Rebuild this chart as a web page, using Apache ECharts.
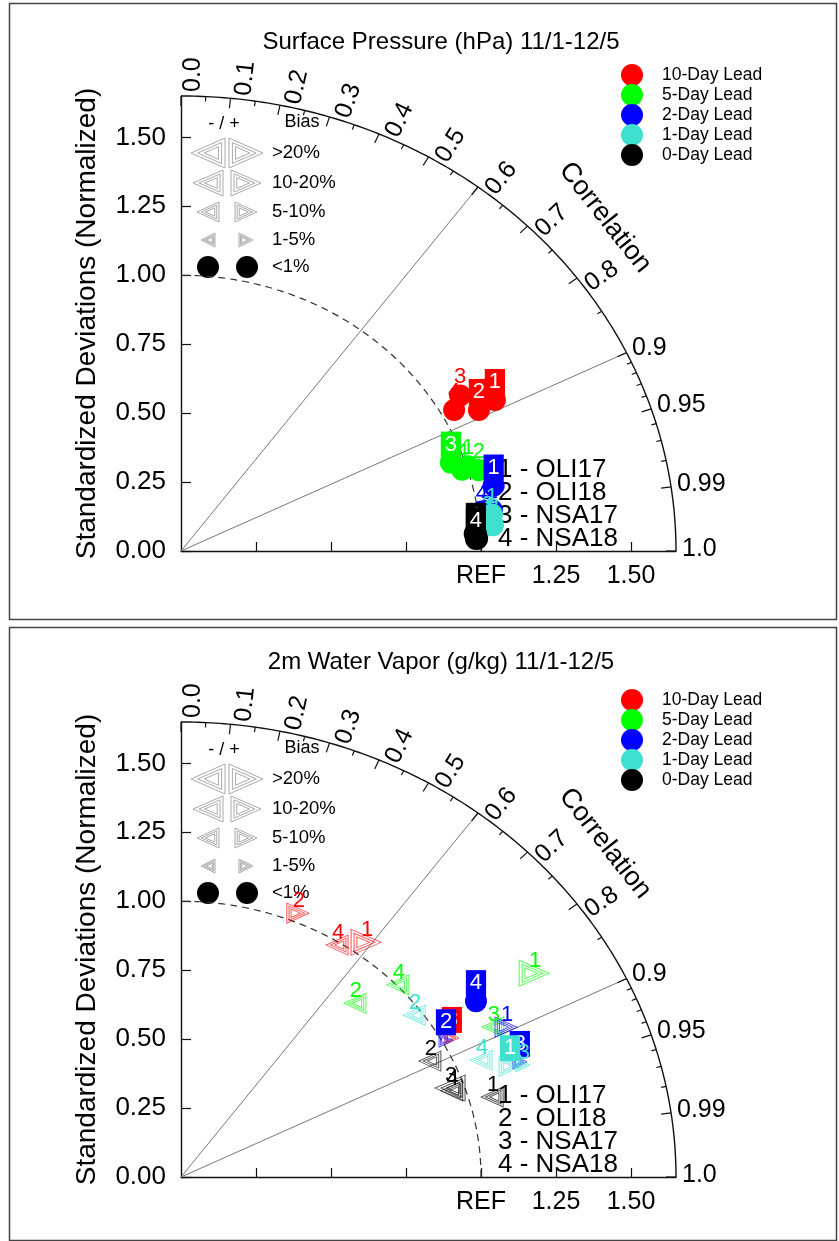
<!DOCTYPE html>
<html>
<head>
<meta charset="utf-8">
<script src="https://cdn.jsdelivr.net/npm/echarts@6/dist/echarts.min.js"></script>
<style>html,body{margin:0;padding:0;background:#fff}#main{width:839px;height:1241px}</style>
</head>
<body>
<div id="main"></div>
<script>
var FONT = '"Liberation Sans", Arial, Helvetica, sans-serif';

var leads = ['10-Day Lead', '5-Day Lead', '2-Day Lead', '1-Day Lead', '0-Day Lead'];
var leadColors = ['#ff0000', '#00ff00', '#0000ff', '#40e0d0', '#000000'];
var sites = ['OLI17', 'OLI18', 'NSA17', 'NSA18'];
var panelTitles = ['Surface Pressure (hPa) 11/1-12/5', '2m Water Vapor (g/kg) 11/1-12/5'];

// rows = leads (10,5,2,1,0 day), cols = sites (OLI17, OLI18, NSA17, NSA18)
var psStd = [
    [1.181, 1.117, 1.088, 1.044],
    [1.005, 1.035, 0.955, 0.982],
    [1.069, 1.047, 1.027, 1.013],
    [1.045, 1.044, 1.028, 1.021],
    [0.985, 0.988, 0.981, 0.984]
];
var psCor = [
    [0.886, 0.889, 0.855, 0.872],
    [0.952, 0.959, 0.942, 0.954],
    [0.975, 0.990, 0.990, 0.990],
    [0.992, 0.996, 0.995, 0.996],
    [0.998, 0.999, 0.998, 0.999]
];
// bias class: 0 <1%, 1 1-5%, 2 5-10%, 3 10-20%, 4 >20%; sign = sign of bias
var psBias = [
    [0, 0, 0, 0],
    [0, 0, 0, 0],
    [0, 0, 0, 0],
    [0, 0, 0, 0],
    [0, 0, 0, 0]
];
var wvStd = [
    [1.051, 1.033, 1.034, 0.989],
    [1.390, 0.856, 1.173, 1.004],
    [1.212, 1.013, 1.204, 1.172],
    [1.168, 0.974, 1.210, 1.086],
    [1.077, 0.930, 0.953, 0.955]
];
var wvCor = [
    [0.587, 0.377, 0.873, 0.526],
    [0.847, 0.677, 0.886, 0.720],
    [0.894, 0.872, 0.938, 0.839],
    [0.939, 0.798, 0.942, 0.921],
    [0.963, 0.892, 0.941, 0.945]
];
var wvBias = [
    [3, 2, 1, -2],
    [3, -2, -2, -2],
    [2, 1, 1, 0],
    [2, -2, 1, -2],
    [-2, -2, -3, -2]
];
// labels drawn white on a coloured box: [lead, site]
var psBoxed = [[0, 0], [0, 1], [1, 2], [2, 0], [4, 0], [4, 3]];
var wvBoxed = [[0, 2], [2, 1], [2, 2], [2, 3], [3, 0]];

var yTickValues = [0, 0.25, 0.5, 0.75, 1, 1.25, 1.5];
var xTickValues = [0.25, 0.5, 0.75, 1, 1.25, 1.5];
var xLabelValues = [1, 1.25, 1.5];
var xLabelTexts = ['REF', '1.25', '1.50'];
var corrLabelValues = [0, 0.1, 0.2, 0.3, 0.4, 0.5, 0.6, 0.7, 0.8, 0.9, 0.95, 0.99, 1];
var corrLabelTexts = ['0.0', '0.1', '0.2', '0.3', '0.4', '0.5', '0.6', '0.7', '0.8', '0.9', '0.95', '0.99', '1.0'];
var corrMinor = [0.05, 0.15, 0.25, 0.35, 0.45, 0.55, 0.65, 0.75, 0.85, 0.91, 0.92, 0.93, 0.94, 0.96, 0.97, 0.98];
var corrLines = [0.6, 0.9];
var refStd = 1;
var maxStd = 1.65;
var biasLabels = ['>20%', '10-20%', '5-10%', '1-5%', '<1%'];
var biasClasses = [4, 3, 2, 1, 0];

var triSize = {1: [14, 14], 2: [22, 20], 3: [30, 26], 4: [34, 30]};
var triScales = [1, 0.7, 0.42];
var PANEL_DY = 626;

function rgba(hex, a) {
    var n = parseInt(hex.slice(1), 16);
    return 'rgba(' + (n >> 16) + ',' + ((n >> 8) & 255) + ',' + (n & 255) + ',' + a + ')';
}

// nested triangle outline, dir 1 = points right (+bias), -1 = left
function triPath(dir) {
    var d = '';
    triScales.forEach(function (s) {
        var bx = 33.3 - 33.3 * s, ax = 33.3 + 66.7 * s;
        if (dir < 0) { bx = 100 - bx; ax = 100 - ax; }
        d += 'M' + bx + ',' + (50 - 50 * s) + 'L' + ax + ',50L' + bx + ',' + (50 + 50 * s) + 'Z';
    });
    return d;
}
function triPolys(cx, cy, w, h, dir, color) {
    var out = [];
    triScales.forEach(function (s) {
        var bx = -w / 3 * s, ax = w * 2 / 3 * s, gx = cx - w / 6;
        if (dir < 0) { bx = -bx; ax = -ax; gx = cx + w / 6; }
        out.push({
            type: 'polygon',
            shape: {points: [[gx + bx, cy - h / 2 * s], [gx + ax, cy], [gx + bx, cy + h / 2 * s]]},
            style: {fill: 'none', stroke: color, lineWidth: 1}
        });
    });
    return out;
}
function txt(x, y, text, size, align, vAlign, extra) {
    var el = {
        type: 'text', x: x, y: y,
        style: {
            text: text, font: size + 'px ' + FONT, fill: '#000', textFill: '#000',
            align: align, textAlign: align, verticalAlign: vAlign, textVerticalAlign: vAlign
        }
    };
    if (extra) for (var k in extra) el[k] = extra[k];
    return el;
}
function isBoxed(list, i, j) {
    for (var k = 0; k < list.length; k++) if (list[k][0] === i && list[k][1] === j) return true;
    return false;
}

// arcs, radial lines, correlation ticks and labels in data space
function frameSeries(p) {
    return {
        type: 'custom', xAxisIndex: p, yAxisIndex: p, z: 1, silent: true, clip: false,
        data: [[0, 0]],
        renderItem: function (params, api) {
            var o = api.coord([0, 0]);
            var kids = [];
            function pt(r, c) { return api.coord([r * c, r * Math.sqrt(Math.max(0, 1 - c * c))]); }
            function arc(r) {
                var pts = [];
                for (var a = 0; a <= 90.001; a += 0.5) {
                    var t = a * Math.PI / 180;
                    pts.push(api.coord([r * Math.cos(t), r * Math.sin(t)]));
                }
                return pts;
            }
            kids.push({type: 'polyline', shape: {points: arc(maxStd)}, style: {stroke: '#111', lineWidth: 1.4, fill: null}});
            kids.push({type: 'polyline', shape: {points: arc(refStd)}, style: {stroke: '#333', lineWidth: 1.2, lineDash: [7, 5], fill: null}});
            corrLines.forEach(function (c) {
                var q = pt(maxStd, c);
                kids.push({type: 'line', shape: {x1: o[0], y1: o[1], x2: q[0], y2: q[1]}, style: {stroke: '#777', lineWidth: 1}});
            });
            function tick(c, len) {
                var q = pt(maxStd, c), dx = o[0] - q[0], dy = o[1] - q[1], L = Math.sqrt(dx * dx + dy * dy);
                kids.push({type: 'line', shape: {x1: q[0], y1: q[1], x2: q[0] + dx / L * len, y2: q[1] + dy / L * len},
                    style: {stroke: '#111', lineWidth: 1.2}});
            }
            corrLabelValues.forEach(function (c) { tick(c, 10); });
            corrMinor.forEach(function (c) { tick(c, 5); });
            corrLabelValues.forEach(function (c, i) {
                var q = pt(maxStd, c), dx = q[0] - o[0], dy = q[1] - o[1], L = Math.sqrt(dx * dx + dy * dy);
                var ux = dx / L, uy = dy / L, ang = Math.atan2(-dy, dx);
                if (c < 0.9) {
                    kids.push(txt(q[0] + ux * 4, q[1] + uy * 4, corrLabelTexts[i], 25, 'left', 'top', {rotation: ang}));
                } else {
                    kids.push(txt(q[0] + ux * 6, q[1] + uy * 6 - 2, corrLabelTexts[i], 25, 'left', 'middle'));
                }
            });
            var q = pt(1.86, 0.76);
            var ang = Math.atan2(-(q[1] - o[1]), q[0] - o[0]);
            kids.push(txt(q[0], q[1], 'Correlation', 27, 'center', 'middle', {rotation: ang - Math.PI / 2}));
            return {type: 'group', children: kids};
        }
    };
}

var panels = [
    {std: psStd, cor: psCor, bias: psBias, boxed: psBoxed},
    {std: wvStd, cor: wvCor, bias: wvBias, boxed: wvBoxed}
];

var series = [];
var graphic = [];
panels.forEach(function (pd, p) {
    series.push(frameSeries(p));
    leads.forEach(function (lead, i) {
        var col = leadColors[i];
        var data = sites.map(function (s, j) {
            var sd = pd.std[i][j], c = pd.cor[i][j], b = pd.bias[i][j];
            var boxed = isBoxed(pd.boxed, i, j);
            var item = {value: [sd * c, sd * Math.sqrt(1 - c * c)], name: s};
            if (b === 0) {
                item.symbol = 'circle';
                item.symbolSize = 22;
                item.itemStyle = {color: col, opacity: 1};
            } else {
                item.symbol = 'path://' + triPath(b > 0 ? 1 : -1);
                item.symbolSize = triSize[Math.abs(b)];
                item.itemStyle = {color: 'rgba(0,0,0,0)', borderColor: rgba(col, 0.65), borderWidth: 1, opacity: 1};
            }
            item.label = {
                show: true, position: 'inside', formatter: String(j + 1),
                offset: (b === 0 || boxed) ? [0, -18] : [1, -12],
                color: boxed ? '#fff' : col,
                backgroundColor: boxed ? col : 'transparent',
                padding: boxed ? [3, 4, 1, 4] : 0,
                fontSize: 22, fontFamily: FONT
            };
            return item;
        });
        series.push({
            type: 'scatter', name: lead, xAxisIndex: p, yAxisIndex: p, z: 3,
            itemStyle: {color: col, opacity: 1}, emphasis: {disabled: true},
            data: data
        });
    });

    var dy = p * PANEL_DY;
    graphic.push({type: 'rect', shape: {x: 9.5, y: p === 0 ? 3.5 : 627.5, width: 827, height: p === 0 ? 616 : 613},
        style: {fill: 'none', stroke: '#444', lineWidth: 1.5}});
    graphic.push(txt(441, p === 0 ? 42 : 662, panelTitles[p], 24, 'center', 'middle'));
    // bias legend
    graphic.push(txt(224, 124 + dy, '- / +', 18, 'center', 'middle'));
    graphic.push(txt(302, 122 + dy, 'Bias', 18, 'center', 'middle'));
    var rowY = [153, 183, 212, 240, 267];
    biasClasses.forEach(function (cls, k) {
        var y = rowY[k] + dy;
        if (cls === 0) {
            graphic.push({type: 'circle', shape: {cx: 208, cy: y, r: 11}, style: {fill: '#000'}});
            graphic.push({type: 'circle', shape: {cx: 247, cy: y, r: 11}, style: {fill: '#000'}});
        } else {
            var sz = triSize[cls];
            triPolys(208, y, sz[0], sz[1], -1, '#aaa').forEach(function (e) { graphic.push(e); });
            triPolys(246, y, sz[0], sz[1], 1, '#aaa').forEach(function (e) { graphic.push(e); });
        }
        graphic.push(txt(272, y, biasLabels[k], 18.5, 'left', 'middle'));
    });
    // site legend
    sites.forEach(function (s, j) {
        graphic.push(txt(498, 470 + j * 23 + dy, (j + 1) + ' - ' + s, 26, 'left', 'middle'));
    });
});

function xAxisOpt(p) {
    return {
        type: 'value', gridIndex: p, min: 0, max: maxStd,
        axisLine: {lineStyle: {color: '#111', width: 1.4}},
        axisTick: {inside: true, length: 9, customValues: xTickValues, lineStyle: {color: '#111', width: 1.2}},
        axisLabel: {
            customValues: xLabelValues, margin: 13, fontSize: 25, fontFamily: FONT, color: '#000',
            formatter: function (v) { var k = xLabelValues.indexOf(v); return k < 0 ? '' : xLabelTexts[k]; }
        },
        splitLine: {show: false}
    };
}
function yAxisOpt(p) {
    return {
        type: 'value', gridIndex: p, min: 0, max: maxStd,
        name: 'Standardized Deviations (Normalized)', nameLocation: 'middle', nameGap: 80, nameRotate: 90,
        nameTextStyle: {fontSize: 28, fontFamily: FONT, color: '#000'},
        axisLine: {lineStyle: {color: '#111', width: 1.4}},
        axisTick: {inside: true, length: 10, customValues: yTickValues, lineStyle: {color: '#111', width: 1.2}},
        axisLabel: {
            customValues: yTickValues, margin: 15, fontSize: 26, fontFamily: FONT, color: '#000',
            formatter: function (v) { return v.toFixed(2); }
        },
        splitLine: {show: false}
    };
}

var chart = echarts.init(document.getElementById('main'), null, {renderer: 'canvas'});
chart.setOption({
    backgroundColor: '#fff',
    animation: false,
    grid: [
        {left: 181, top: 96, width: 495, height: 455, outerBoundsMode: 'none'},
        {left: 181, top: 722, width: 495, height: 455, outerBoundsMode: 'none'}
    ],
    xAxis: [xAxisOpt(0), xAxisOpt(1)],
    yAxis: [yAxisOpt(0), yAxisOpt(1)],
    legend: [0, 1].map(function (p) {
        return {
            data: leads.map(function (n) { return {name: n, icon: 'circle', itemStyle: {opacity: 1}}; }),
            orient: 'vertical', left: 621, top: 64 + p * 625, padding: 0,
            itemWidth: 22, itemHeight: 22, itemGap: -2, selectedMode: false,
            textStyle: {fontSize: 17.5, fontFamily: FONT, color: '#000', padding: [0, 0, 0, 14]}
        };
    }),
    graphic: graphic,
    series: series
});
</script>
</body>
</html>
